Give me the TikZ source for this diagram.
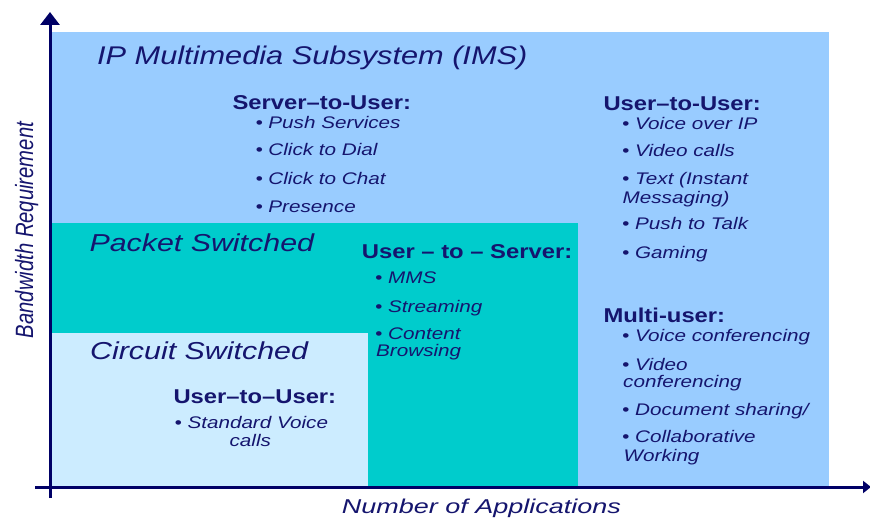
\documentclass[tikz,border=0pt]{standalone}
\usepackage{fontspec}
\setmainfont{Liberation Sans}
\usetikzlibrary{arrows.meta}
\definecolor{ink}{HTML}{15156E}
\definecolor{axis}{HTML}{000066}
\definecolor{imsblue}{HTML}{99CCFF}
\definecolor{packet}{HTML}{00CCCC}
\definecolor{circuit}{HTML}{CCECFF}
\newcommand{\wT}[1]{\scalebox{1.20}[1]{#1}}
\newcommand{\wH}[1]{\scalebox{1.19}[1]{#1}}
\newcommand{\wI}[1]{\scalebox{1.23}[1]{#1}}
\newcommand{\wR}[1]{\scalebox{1.24}[1]{#1}}
\newcommand{\wX}[1]{\scalebox{1.35}[1]{#1}}
\tikzset{
  txt/.style={anchor=base west, inner sep=0pt, text=ink},
  title/.style={txt, font=\itshape\fontsize{25.6}{30}\selectfont},
  region/.style={txt, font=\itshape\fontsize{24.5}{29}\selectfont},
  head/.style={txt, font=\bfseries\fontsize{20}{24}\selectfont},
  item/.style={txt, font=\itshape\fontsize{16.8}{20}\selectfont},
  citem/.style={item, anchor=base},
  axisline/.style={draw=axis, line width=3pt},
}
\begin{document}
\begin{tikzpicture}[x=1pt, y=-1pt]
\fill[white] (0,0) rectangle (870,521);
\useasboundingbox (0,0) rectangle (870,521);
% regions
\fill[imsblue] (52,32) rectangle (829,487);
\fill[packet] (52,223) rectangle (578,487);
\fill[circuit] (52,333) rectangle (368,487);
% axes
\coordinate (ybot) at (50,498);
\coordinate (ytop) at (50,12);
\coordinate (xleft) at (35,487);
\coordinate (xright) at (871,487);
\draw[axisline, -{Triangle[width=19pt,length=13pt]}] (ybot) -- (ytop);
\draw[axisline, -{Triangle[width=12pt,length=8pt]}] (xleft) -- (xright);
% IMS
\node[title] (ims) at (97,65) {\wT{IP Multimedia Subsystem (IMS)}};
\node[head] (su) at (232.3,109.3) {\wH{Server–to-User:}};
\node[item] (su1) at (255.3,128.3) {\wI{• Push Services}};
\node[item] (su2) at (255.3,156) {\wI{• Click to Dial}};
\node[item] (su3) at (255.3,184.3) {\wI{• Click to Chat}};
\node[item] (su4) at (255.3,212.7) {\wI{• Presence}};
\node[head] (uu) at (603.3,110.7) {\wH{User–to-User:}};
\node[item] (uu1) at (622,129.3) {\wI{• Voice over IP}};
\node[item] (uu2) at (622,156.7) {\wI{• Video calls}};
\node[item] (uu3) at (622,185) {\wI{• Text (Instant}};
\node[item] (uu3b) at (622.5,203.3) {\wI{Messaging)}};
\node[item] (uu4) at (622,230) {\wI{• Push to Talk}};
\node[item] (uu5) at (622,258.3) {\wI{• Gaming}};
\node[head] (mu) at (603.3,322.3) {\wH{Multi-user:}};
\node[item] (mu1) at (622,341.7) {\wI{• Voice conferencing}};
\node[item] (mu2) at (622,370) {\wI{• Video}};
\node[item] (mu2b) at (623,387) {\wI{conferencing}};
\node[item] (mu3) at (622,415) {\wI{• Document sharing/}};
\node[item] (mu4) at (622,442.7) {\wI{• Collaborative}};
\node[item] (mu4b) at (623.5,461.7) {\wI{Working}};
% Packet
\node[region] (ps) at (89.3,251.7) {\wR{Packet Switched}};
\node[head] (us) at (361.7,258.3) {\wH{User – to – Server:}};
\node[item] (us1) at (375,283.3) {\wI{• MMS}};
\node[item] (us2) at (375,312.3) {\wI{• Streaming}};
\node[item] (us3) at (375,339.3) {\wI{• Content}};
\node[item] (us3b) at (376,356.7) {\wI{Browsing}};
% Circuit
\node[region] (cs) at (90,359.3) {\wR{Circuit Switched}};
\node[head] (cu) at (173.3,403.3) {\wH{User–to–User:}};
\node[citem] (cu1) at (251.3,428.3) {\wI{• Standard Voice}};
\node[citem] (cu1b) at (250.3,446.7) {\wI{calls}};
% axis labels
\node[txt, font=\itshape\fontsize{20}{24}\selectfont] (xl) at (341.7,513.3) {\wX{Number of Applications}};
\node[inner sep=0pt, text=ink, anchor=base, rotate=90, font=\itshape\fontsize{25}{30}\selectfont] (yl) at (33,230) {\scalebox{0.81}[1]{Bandwidth Requirement}};
\end{tikzpicture}
\end{document}
